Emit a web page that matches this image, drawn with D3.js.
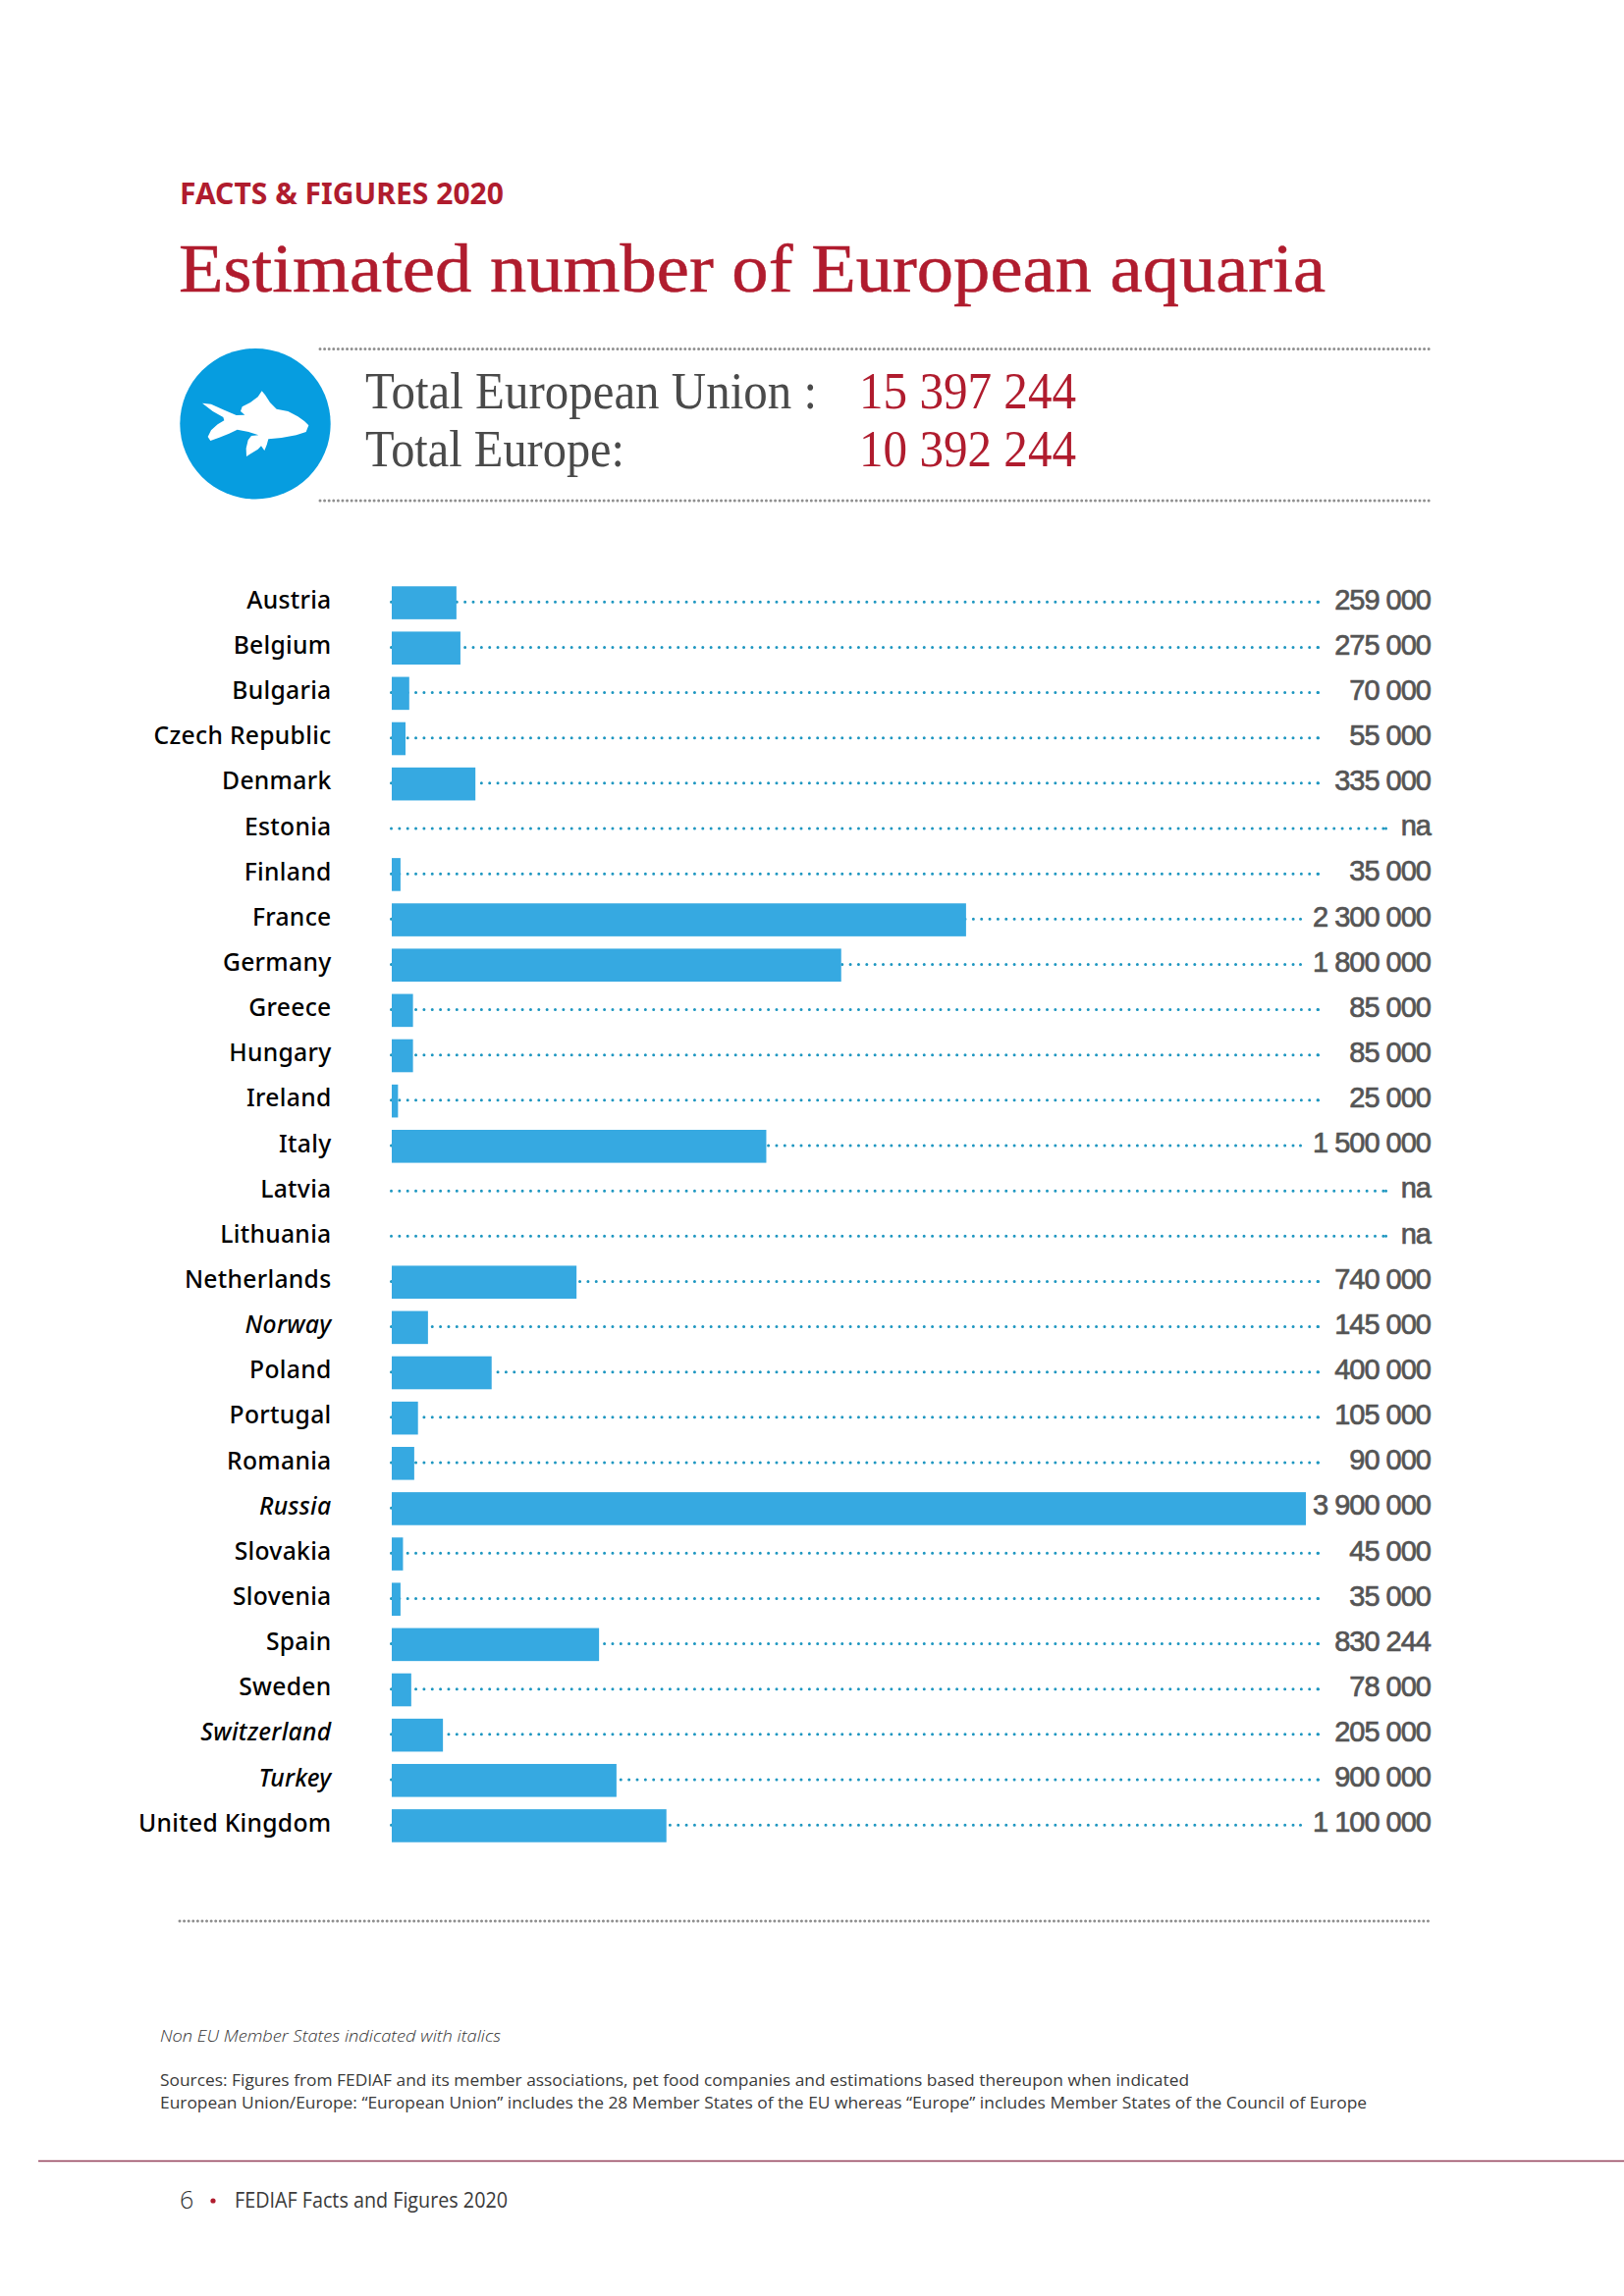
<!DOCTYPE html>
<html><head><meta charset="utf-8">
<script src="https://cdn.jsdelivr.net/npm/d3@7/dist/d3.min.js"></script>
<style>html,body{margin:0;padding:0;background:#fff}svg{display:block}</style>
</head><body><svg id="c" width="1654" height="2339"></svg>
<script>
const countries = ["Austria","Belgium","Bulgaria","Czech Republic","Denmark","Estonia","Finland","France","Germany","Greece","Hungary","Ireland","Italy","Latvia","Lithuania","Netherlands","Norway","Poland","Portugal","Romania","Russia","Slovakia","Slovenia","Spain","Sweden","Switzerland","Turkey","United Kingdom"];
const values = [259000,275000,70000,55000,335000,null,35000,2300000,1800000,85000,85000,25000,1500000,null,null,740000,145000,400000,105000,90000,3900000,45000,35000,830244,78000,205000,900000,1100000];
const nonEU = ["Norway","Russia","Switzerland","Turkey"];
const totals = [["Total European Union :","15 397 244"],["Total Europe:","10 392 244"]];
const fmt = v => v===null ? "na" : d3.format(",")(v).replace(/,/g," ");

const RED="#b01c2e", BLUE="#36a9e1", DOT="#1d96c0", GREY="#555";
const svg=d3.select("#c");
svg.append("rect").attr("width",1654).attr("height",2339).attr("fill","#fff");
function txt(s,x,y,o){const t=svg.append("text").attr("x",x).attr("y",y).text(s)
  .attr("font-family",o.f).attr("font-size",o.s).attr("fill",o.c).attr("font-weight",o.w||400).attr("font-style",o.i?"italic":"normal");
  if(o.l){t.attr("textLength",o.l).attr("lengthAdjust","spacingAndGlyphs");}
  if(o.st){t.attr("stroke",o.c).attr("stroke-width",o.st);} return t;}
const SERIF="'Liberation Serif',serif", SANS="'Noto Sans',sans-serif", LIGHT="'Open Sans',sans-serif";

txt("FACTS & FIGURES 2020",183,207.5,{f:SANS,s:31,w:700,c:RED,l:330});
txt("Estimated number of European aquaria",182,296.5,{f:SERIF,s:69,c:RED,l:1168,st:0.5});

function rule(x1,x2,y,dash,w,c){svg.append("line").attr("x1",x1).attr("x2",x2).attr("y1",y).attr("y2",y)
  .attr("stroke",c).attr("stroke-width",w).attr("stroke-linecap","round").attr("stroke-dasharray",dash);}
rule(326,1456,355.5,"0 4.59",3,"#8f8f8f");
rule(326,1456,510,"0 4.59",3,"#8f8f8f");
rule(183,1456,1957,"0 4.59",3,"#8f8f8f");

// icon
svg.append("circle").attr("cx",260).attr("cy",431.7).attr("r",76.7).attr("fill","#069de0");
const fish=[[108,197],[135,200],[175,218],[212,234],[238,233],[225,222],[230,208],[255,195],[278,178],[290,160],[300,172],[315,195],[335,215],[370,222],[400,238],[420,252],[433,265],[425,285],[395,295],[350,303],[310,307],[305,325],[298,342],[288,328],[278,338],[262,348],[243,360],[242,335],[248,310],[258,297],[280,295],[250,285],[215,278],[190,290],[160,302],[133,312],[125,300],[135,280],[155,262],[175,250],[172,240],[140,222]];
svg.append("path").attr("fill","#fff")
  .attr("d",d3.line().x(d=>170+d[0]/3).y(d=>345+d[1]/3)(fish)+"Z");

[416,475].forEach((y,i)=>{
  txt(totals[i][0],372,y,{f:SERIF,s:53,c:"#4a4a4a",l:i==0?460:264});
  txt(totals[i][1],875,y,{f:SERIF,s:53,c:RED,l:221});
});

// chart
const x=d3.scaleLinear().domain([0,3661000]).range([399,1330]).clamp(true);
const y=d3.scaleBand().domain(countries).range([591,1883]).paddingInner(0.272).paddingOuter(0.136);
const rows=countries.map((c,i)=>({c,v:values[i]}));
const g=svg.append("g");
const dotEnd=v=>v===null?1412:(v>=1000000?1325:1343);
const cy=d=>y(d.c)+y.bandwidth()/2-0.8;
g.selectAll("line.d").data(rows).join("line").attr("class","d")
  .attr("x1",398.5).attr("x2",d=>dotEnd(d.v))
  .attr("y1",cy).attr("y2",cy)
  .attr("stroke",DOT).attr("stroke-width",3).attr("stroke-linecap","round").attr("stroke-dasharray","0 8.35");
g.selectAll("circle.e").data(rows).join("circle").attr("class","e")
  .attr("cx",d=>dotEnd(d.v)-0.5).attr("cy",cy).attr("r",1.5).attr("fill",DOT);
g.selectAll("rect.b").data(rows.filter(d=>d.v!==null)).join("rect").attr("class","b")
  .attr("x",x(0)).attr("y",d=>y(d.c)).attr("width",d=>x(d.v)-x(0)).attr("height",y.bandwidth()).attr("fill",BLUE);
g.selectAll("text.l").data(rows).join("text").attr("class","l")
  .attr("transform",d=>`translate(337.5,${y(d.c)+y.bandwidth()/2+5.8}) scale(0.95,1)`)
  .attr("text-anchor","end").attr("font-family",SANS).attr("font-size",26).attr("font-weight",500)
  .attr("letter-spacing",0.3)
  .attr("font-style",d=>nonEU.includes(d.c)?"italic":"normal").attr("fill","#000").text(d=>d.c);
g.selectAll("text.v").data(rows).join("text").attr("class","v")
  .attr("x",1457).attr("y",d=>y(d.c)+y.bandwidth()/2+6.5)
  .attr("text-anchor","end").attr("font-family","'Liberation Sans',sans-serif").attr("font-size",29)
  .attr("letter-spacing",-1).attr("fill",GREY).attr("stroke",GREY).attr("stroke-width",0.7).text(d=>fmt(d.v));

// footnotes
txt("Non EU Member States indicated with italics",163,2079.5,{f:LIGHT,s:17,w:300,i:1,c:"#333",l:347});
txt("Sources: Figures from FEDIAF and its member associations, pet food companies and estimations based thereupon when indicated",163,2124.5,{f:LIGHT,s:17,w:400,c:"#3a3a3a",l:1048});
txt("European Union/Europe: “European Union” includes the 28 Member States of the EU whereas “Europe” includes Member States of the Council of Europe",163,2148,{f:LIGHT,s:17,w:400,c:"#3a3a3a",l:1229});
svg.append("line").attr("x1",39).attr("x2",1654).attr("y1",2201.5).attr("y2",2201.5).attr("stroke","#94405a").attr("stroke-width",1.5);
txt("6",183,2250,{f:LIGHT,s:25,w:300,c:"#333"});
svg.append("circle").attr("cx",217).attr("cy",2242).attr("r",2.6).attr("fill",RED);
txt("FEDIAF Facts and Figures 2020",239,2249,{f:LIGHT,s:21,w:400,c:"#3a3a3a",l:278});
</script></body></html>
